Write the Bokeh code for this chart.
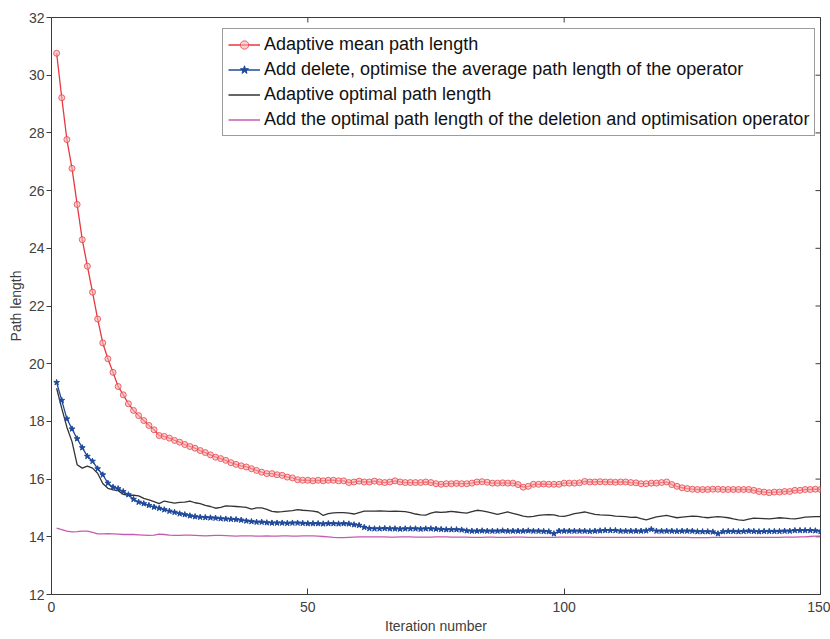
import math
from bokeh.plotting import figure
from bokeh.models import (Range1d, FixedTicker, Legend, LegendItem,
                          ColumnDataSource)
from bokeh.embed import file_html
from bokeh.resources import INLINE

iterations = list(range(1, 151))

adaptive_mean = [
    30.76, 29.22, 27.77, 26.77, 25.52, 24.30, 23.38, 22.48, 21.55, 20.72,
    20.17, 19.70, 19.21, 18.92, 18.61, 18.38, 18.20, 18.03, 17.86, 17.71,
    17.51, 17.48, 17.42, 17.34, 17.28, 17.20, 17.13, 17.07, 16.99, 16.92,
    16.84, 16.76, 16.71, 16.65, 16.57, 16.51, 16.46, 16.42, 16.36, 16.30,
    16.24, 16.19, 16.19, 16.15, 16.13, 16.07, 16.04, 15.98, 15.96, 15.96,
    15.94, 15.96, 15.94, 15.96, 15.96, 15.94, 15.94, 15.88, 15.90, 15.93,
    15.90, 15.90, 15.93, 15.90, 15.88, 15.90, 15.94, 15.90, 15.88, 15.88,
    15.88, 15.88, 15.90, 15.88, 15.84, 15.82, 15.84, 15.84, 15.85, 15.84,
    15.84, 15.86, 15.90, 15.91, 15.89, 15.86, 15.86, 15.87, 15.86, 15.86,
    15.81, 15.72, 15.75, 15.82, 15.82, 15.83, 15.82, 15.82, 15.82, 15.86,
    15.86, 15.86, 15.87, 15.92, 15.90, 15.90, 15.91, 15.90, 15.90, 15.89,
    15.90, 15.90, 15.88, 15.87, 15.84, 15.84, 15.86, 15.86, 15.88, 15.90,
    15.81, 15.75, 15.70, 15.67, 15.65, 15.64, 15.64, 15.64, 15.65, 15.65,
    15.64, 15.64, 15.64, 15.64, 15.64, 15.64, 15.61, 15.57, 15.55, 15.53,
    15.55, 15.55, 15.57, 15.57, 15.61, 15.61, 15.64, 15.64, 15.65, 15.64,
]

operator_mean = [
    19.35, 18.73, 18.09, 17.74, 17.40, 17.09, 16.79, 16.62, 16.36, 16.15,
    15.86, 15.72, 15.67, 15.57, 15.46, 15.30, 15.20, 15.15, 15.09, 15.03,
    14.99, 14.94, 14.89, 14.85, 14.80, 14.77, 14.73, 14.70, 14.68, 14.67,
    14.66, 14.65, 14.63, 14.62, 14.61, 14.60, 14.58, 14.55, 14.53, 14.51,
    14.51, 14.49, 14.48, 14.48, 14.48, 14.47, 14.48, 14.48, 14.47, 14.46,
    14.46, 14.46, 14.45, 14.46, 14.46, 14.45, 14.46, 14.45, 14.42, 14.40,
    14.33, 14.29, 14.28, 14.28, 14.29, 14.28, 14.28, 14.27, 14.28, 14.28,
    14.28, 14.27, 14.28, 14.28, 14.27, 14.26, 14.25, 14.25, 14.25, 14.24,
    14.21, 14.20, 14.20, 14.21, 14.20, 14.20, 14.20, 14.21, 14.20, 14.20,
    14.20, 14.20, 14.21, 14.20, 14.20, 14.19, 14.18, 14.11, 14.20, 14.20,
    14.20, 14.20, 14.20, 14.20, 14.19, 14.20, 14.21, 14.22, 14.22, 14.22,
    14.20, 14.20, 14.20, 14.20, 14.20, 14.21, 14.26, 14.20, 14.20, 14.20,
    14.20, 14.19, 14.20, 14.20, 14.20, 14.18, 14.18, 14.18, 14.17, 14.11,
    14.18, 14.19, 14.19, 14.18, 14.19, 14.20, 14.19, 14.18, 14.19, 14.19,
    14.19, 14.19, 14.20, 14.20, 14.22, 14.22, 14.22, 14.22, 14.21, 14.19,
]

adaptive_optimal = [
    19.15, 18.45, 17.80, 17.30, 16.50, 16.38, 16.45, 16.38, 16.20, 15.85,
    15.68, 15.63, 15.60, 15.47, 15.44, 15.44, 15.42, 15.33, 15.28, 15.22,
    15.15, 15.24, 15.20, 15.17, 15.19, 15.20, 15.24, 15.18, 15.15, 15.09,
    15.05, 14.99, 15.02, 15.07, 15.06, 15.05, 15.04, 15.02, 14.96, 15.00,
    15.00, 14.95, 14.88, 14.86, 14.87, 14.89, 14.91, 14.94, 14.92, 14.91,
    14.89, 14.86, 14.74, 14.80, 14.83, 14.84, 14.84, 14.82, 14.79, 14.84,
    14.89, 14.89, 14.89, 14.90, 14.89, 14.88, 14.89, 14.88, 14.87, 14.84,
    14.79, 14.76, 14.75, 14.82, 14.86, 14.85, 14.86, 14.88, 14.86, 14.84,
    14.82, 14.87, 14.92, 14.90, 14.86, 14.82, 14.78, 14.82, 14.86, 14.81,
    14.77, 14.72, 14.69, 14.71, 14.74, 14.76, 14.77, 14.76, 14.72, 14.71,
    14.75, 14.80, 14.83, 14.86, 14.82, 14.78, 14.76, 14.75, 14.74, 14.72,
    14.71, 14.70, 14.67, 14.68, 14.63, 14.59, 14.64, 14.69, 14.72, 14.74,
    14.70, 14.66, 14.68, 14.70, 14.72, 14.71, 14.68, 14.66, 14.68, 14.70,
    14.68, 14.66, 14.62, 14.59, 14.57, 14.61, 14.65, 14.64, 14.63, 14.62,
    14.64, 14.66, 14.65, 14.63, 14.62, 14.65, 14.68, 14.69, 14.70, 14.70,
]

operator_optimal = [
    14.30, 14.25, 14.20, 14.17, 14.18, 14.20, 14.20, 14.15, 14.10, 14.10,
    14.11, 14.10, 14.09, 14.08, 14.08, 14.08, 14.07, 14.06, 14.05, 14.06,
    14.09, 14.08, 14.06, 14.05, 14.05, 14.06, 14.06, 14.05, 14.04, 14.03,
    14.04, 14.05, 14.05, 14.04, 14.03, 14.02, 14.03, 14.03, 14.03, 14.02,
    14.02, 14.03, 14.02, 14.02, 14.03, 14.03, 14.02, 14.02, 14.03, 14.03,
    14.03, 14.02, 14.01, 14.00, 13.98, 13.97, 13.97, 13.98, 13.99, 14.00,
    14.00, 14.00, 14.00, 14.00, 14.00, 13.99, 13.99, 14.00, 14.00, 14.00,
    13.99, 13.99, 13.99, 13.99, 14.00, 14.00, 14.00, 13.99, 13.99, 13.99,
    13.99, 13.98, 13.98, 13.98, 13.99, 13.99, 13.98, 13.98, 13.98, 13.99,
    13.99, 13.99, 13.98, 13.98, 13.98, 13.98, 13.98, 13.98, 13.99, 13.99,
    13.99, 13.99, 13.99, 13.99, 13.99, 13.98, 13.98, 13.98, 13.98, 13.98,
    13.98, 13.98, 13.98, 13.98, 13.98, 13.98, 13.98, 13.98, 13.98, 13.98,
    13.98, 13.98, 13.98, 13.98, 13.97, 13.97, 13.97, 13.97, 13.98, 13.98,
    13.98, 13.98, 13.98, 13.98, 13.98, 13.98, 13.98, 13.98, 13.98, 13.98,
    13.98, 13.98, 13.99, 13.99, 13.99, 14.00, 14.00, 14.01, 14.02, 14.02,
]

series_labels = [
    "Adaptive mean path length",
    "Add delete, optimise the average path length of the operator",
    "Adaptive optimal path length",
    "Add the optimal path length of the deletion and optimisation operator",
]
x_ticks = [0, 50, 100, 150]
y_ticks = [12, 14, 16, 18, 20, 22, 24, 26, 28, 30, 32]
x_min, x_max = 0, 150
y_min, y_max = 12, 32

FONT = "Liberation Sans"
AXIS_COLOR = "#3a3a3a"
TEXT_COLOR = "#404040"
RED = "#e8383f"
RED_FILL = "#f6b0b3"
BLUE = "#1f4a9a"
BLACK = "#333333"
PINK = "#c65cb2"

src = ColumnDataSource(dict(x=iterations, red=adaptive_mean, blue=operator_mean,
                            black=adaptive_optimal, pink=operator_optimal))

p = figure(width=830, height=639, output_backend="svg", toolbar_location=None,
           x_range=Range1d(x_min, x_max), y_range=Range1d(y_min, y_max),
           min_border_left=51, min_border_right=10, min_border_top=17,
           min_border_bottom=45,
           x_axis_label="Iteration number", y_axis_label="Path length")
p.grid.visible = False
p.outline_line_color = AXIS_COLOR
p.outline_line_width = 1
p.background_fill_color = "white"
p.border_fill_color = "white"

for ax in (p.xaxis[0], p.yaxis[0]):
    ax.axis_line_color = AXIS_COLOR
    ax.major_tick_line_color = AXIS_COLOR
    ax.minor_tick_line_color = None
    ax.major_label_text_font = FONT
    ax.major_label_text_font_size = "14px"
    ax.major_label_text_color = TEXT_COLOR
    ax.axis_label_text_font = FONT
    ax.axis_label_text_font_size = "14px"
    ax.axis_label_text_font_style = "normal"
    ax.axis_label_text_color = TEXT_COLOR

p.xaxis[0].ticker = FixedTicker(ticks=x_ticks)
p.xaxis[0].major_tick_in = 6
p.xaxis[0].major_tick_out = 0
p.xaxis[0].major_label_standoff = 7
p.xaxis[0].axis_label_standoff = 3

p.yaxis[0].ticker = FixedTicker(ticks=y_ticks)
p.yaxis[0].major_tick_in = 0
p.yaxis[0].major_tick_out = 5
p.yaxis[0].major_label_standoff = 2
p.yaxis[0].axis_label_standoff = 2

# mirrored inward ticks on the right and top edges of the box
p.ray(x=[x_max] * len(y_ticks), y=y_ticks, length=5, length_units="screen",
      angle=math.pi, line_color=AXIS_COLOR, line_width=1)
p.ray(x=x_ticks, y=[y_max] * len(x_ticks), length=5, length_units="screen",
      angle=-math.pi / 2, line_color=AXIS_COLOR, line_width=1)

pink_line = p.line("x", "pink", source=src, line_color=PINK, line_width=1.3)
black_line = p.line("x", "black", source=src, line_color=BLACK, line_width=1.3)
blue_line = p.line("x", "blue", source=src, line_color=BLUE, line_width=1.3)
blue_pts = p.scatter("x", "blue", source=src, marker="star", size=6,
                     fill_color=BLUE, line_color=BLUE, line_width=1)
red_line = p.line("x", "red", source=src, line_color=RED, line_width=1.3)
red_pts = p.scatter("x", "red", source=src, marker="circle", size=6,
                    fill_color=RED_FILL, fill_alpha=0.6, line_color=RED,
                    line_width=1, line_alpha=0.75)

legend = Legend(items=[
    LegendItem(label=series_labels[0], renderers=[red_line, red_pts]),
    LegendItem(label=series_labels[1], renderers=[blue_line, blue_pts]),
    LegendItem(label=series_labels[2], renderers=[black_line]),
    LegendItem(label=series_labels[3], renderers=[pink_line]),
], location=(171, 458))
legend.label_text_font = FONT
legend.label_text_font_size = "18px"
legend.label_text_color = "#111111"
legend.glyph_width = 32
legend.glyph_height = 21
legend.label_height = 21
legend.label_standoff = 4
legend.spacing = 4
legend.padding = 5
legend.margin = 0
legend.border_line_color = AXIS_COLOR
legend.border_line_width = 1
legend.background_fill_color = "white"
legend.background_fill_alpha = 1
p.add_layout(legend)

open("out.html", "w").write(file_html(p, INLINE))
